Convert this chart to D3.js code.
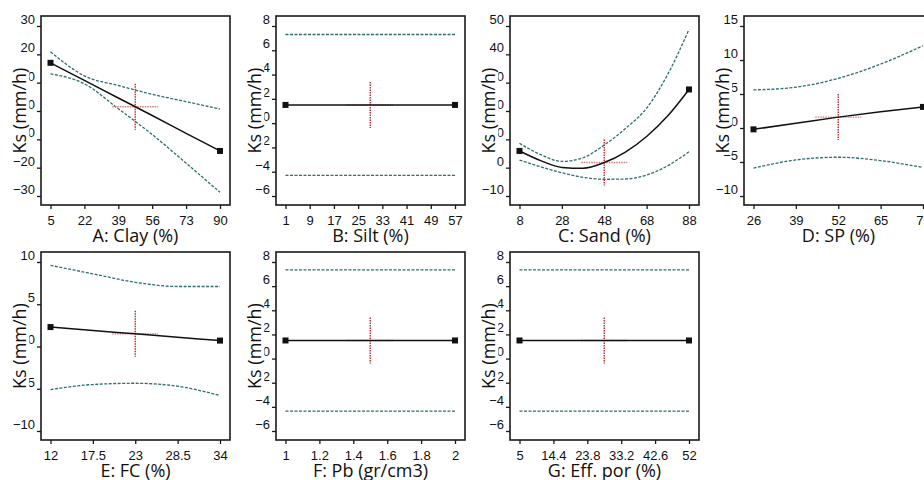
<!DOCTYPE html>
<html>
<head>
<meta charset="utf-8">
<script src="https://cdn.jsdelivr.net/npm/d3@7"></script>
<style>
body{margin:0;background:#fff;overflow:hidden;}
svg{display:block;font-family:"Open Sans","Noto Sans",sans-serif;}
</style>
</head>
<body>
<svg id="chart" width="924" height="480"></svg>
<script>
// one-factor effect plots, Ks (mm/h)

var clayTicks = [5,22,39,56,73,90];
var clayY = [-30,-20,-10,0,10,20,30];
var clayFit = [17.0,10.8,4.6,-1.6,-7.9,-14.1];
var clayUp = [20.9,12.4,9.0,5.9,3.3,0.7];
var clayLo = [13.1,9.6,0.8,-8.3,-18.4,-28.7];
var clayCenter = [47.5,1.5];

var siltTicks = [1,9,17,25,33,41,49,57];
var siltY = [-6,-4,-2,0,2,4,6,8];
var siltX = [1,57];
var siltFit = [1.5,1.5];
var siltUp = [7.3,7.3];
var siltLo = [-4.3,-4.3];
var siltCenter = [29,1.5];

var sandTicks = [8,28,48,68,88];
var sandY = [-10,0,10,20,30,40,50];
var sandX = [8,18,28,38,48,58,68,78,88];
var sandFit = [5.9,2.5,0.1,-0.2,1.8,5.5,11.0,18.3,27.6];
var sandUp = [8.6,4.6,2.2,3.5,8.0,13.8,21.0,33.0,48.8];
var sandLo = [2.7,0.3,-1.8,-3.4,-4.1,-4.0,-2.6,0.7,5.6];
var sandCenter = [48,1.8];

var spTicks = [26,39,52,65,78];
var spY = [-10,-5,0,5,10,15];
var spFit = [-0.2,0.7,1.6,2.4,3.1];
var spUp = [5.6,6.0,7.3,9.4,12.1];
var spLo = [-5.9,-4.7,-4.3,-4.8,-5.8];
var spCenter = [52,1.6];

var fcTicks = [12,17.5,23,28.5,34];
var fcY = [-10,-5,0,5,10];
var fcFit = [2.3,1.9,1.5,1.1,0.7];
var fcUp = [9.6,8.6,7.6,7.1,7.1];
var fcLo = [-5.1,-4.5,-4.35,-4.7,-5.8];
var fcCenter = [23,1.5];

var pbTicks = [1,1.2,1.4,1.6,1.8,2];
var pbY = [-6,-4,-2,0,2,4,6,8];
var pbX = [1,2];
var pbFit = [1.5,1.5];
var pbUp = [7.35,7.35];
var pbLo = [-4.35,-4.35];
var pbCenter = [1.5,1.5];

var porTicks = [5,14.4,23.8,33.2,42.6,52];
var porY = [-6,-4,-2,0,2,4,6,8];
var porX = [5,52];
var porFit = [1.5,1.5];
var porUp = [7.35,7.35];
var porLo = [-4.35,-4.35];
var porCenter = [28.5,1.5];

var panels = [
	{name:"A: Clay (%)", col:0, row:0, xt:clayTicks, yt:clayY, x:clayTicks, fit:clayFit, up:clayUp, lo:clayLo, c:clayCenter},
	{name:"B: Silt (%)", col:1, row:0, xt:siltTicks, yt:siltY, x:siltX, fit:siltFit, up:siltUp, lo:siltLo, c:siltCenter},
	{name:"C: Sand (%)", col:2, row:0, xt:sandTicks, yt:sandY, x:sandX, fit:sandFit, up:sandUp, lo:sandLo, c:sandCenter},
	{name:"D: SP (%)", col:3, row:0, xt:spTicks, yt:spY, x:spTicks, fit:spFit, up:spUp, lo:spLo, c:spCenter},
	{name:"E: FC (%)", col:0, row:1, xt:fcTicks, yt:fcY, x:fcTicks, fit:fcFit, up:fcUp, lo:fcLo, c:fcCenter},
	{name:"F: Pb (gr/cm3)", col:1, row:1, xt:pbTicks, yt:pbY, x:pbX, fit:pbFit, up:pbUp, lo:pbLo, c:pbCenter},
	{name:"G: Eff. por (%)", col:2, row:1, xt:porTicks, yt:porY, x:porX, fit:porFit, up:porUp, lo:porLo, c:porCenter}
];

var colLeft = [41,276,510,744];
var rowTop = [16,252];
var rowH = [189,188];
var W = 189;

var svg = d3.select("#chart");

panels.forEach(function(p){
	var left = colLeft[p.col], top = rowTop[p.row], H = rowH[p.row];
	var g = svg.append("g").attr("transform","translate("+left+","+top+")");

	var x = d3.scaleLinear().domain(d3.extent(p.xt)).range([9.5, W-10]);
	var y = d3.scaleLinear().domain(d3.extent(p.yt)).range([H-9, 10]);

	// frame
	g.append("rect").attr("width",W).attr("height",H)
		.attr("fill","none").attr("stroke","#1a1a1a").attr("stroke-width",1.6);

	// ticks
	var xa = d3.axisBottom(x).tickValues(p.xt).tickSize(4).tickFormat(d3.format("~g"));
	var gx = g.append("g").attr("transform","translate(0,"+H+")").call(xa);
	gx.select(".domain").remove();
	gx.selectAll("line").attr("stroke","#1a1a1a").attr("stroke-width",1.3);
	gx.selectAll("text").attr("y",15).attr("dy","0.35em").attr("font-size",13).attr("fill","#111")
		.attr("font-family","inherit");

	var ya = d3.axisLeft(y).tickValues(p.yt).tickSize(4).tickFormat(d3.format("~g"));
	var gy = g.append("g").call(ya);
	gy.select(".domain").remove();
	gy.selectAll("line").attr("stroke","#1a1a1a").attr("stroke-width",1.3);
	gy.selectAll("text").attr("x",-6).attr("dy","-0.2em").attr("font-size",13).attr("fill","#111")
		.attr("font-family","inherit");

	// axis titles
	g.append("text").attr("x",W/2).attr("y",H+31).attr("dy","0.35em")
		.attr("text-anchor","middle").attr("font-size",18).attr("fill","#111").text(p.name);

	var tg = g.append("g").attr("transform","translate(-21,"+(H/2)+") rotate(-90)");
	var tt = tg.append("text").attr("text-anchor","middle").attr("dy","0.35em")
		.attr("font-size",18).attr("fill","#111").text("Ks (mm/h)");
	var bb = tt.node().getBBox();
	tg.insert("rect","text").attr("x",bb.x).attr("y",bb.y+3).attr("width",bb.width).attr("height",bb.height-5)
		.attr("fill","#fff");

	var pts = function(vals){ return p.x.map(function(d,i){ return [d, vals[i]]; }); };
	var line = d3.line().x(function(d){return x(d[0]);}).y(function(d){return y(d[1]);}).curve(d3.curveMonotoneX);

	// confidence bands
	[p.up, p.lo].forEach(function(band){
		g.append("path").attr("d",line(pts(band))).attr("fill","none")
			.attr("stroke","#2d6e6e").attr("stroke-width",1.3).attr("stroke-dasharray","3,1.5");
	});

	// crosshair at the center point
	var cx = x(p.c[0]), cy = y(p.c[1]);
	g.append("line").attr("x1",cx-23).attr("x2",cx+23).attr("y1",cy).attr("y2",cy)
		.attr("stroke","#d9777b").attr("stroke-width",1.4).attr("stroke-dasharray","1.5,1");
	g.append("line").attr("x1",cx).attr("x2",cx).attr("y1",cy-23).attr("y2",cy+23)
		.attr("stroke","#c0272d").attr("stroke-width",1.4).attr("stroke-dasharray","1.5,1");

	// fitted line
	g.append("path").attr("d",line(pts(p.fit))).attr("fill","none")
		.attr("stroke","#111").attr("stroke-width",1.5);

	var ends = [pts(p.fit)[0], pts(p.fit)[p.x.length-1]];
	g.selectAll(".endpt").data(ends).enter().append("rect")
		.attr("x",function(d){return x(d[0])-3;}).attr("y",function(d){return y(d[1])-3;})
		.attr("width",6).attr("height",6).attr("fill","#111");
});
</script>
</body>
</html>
